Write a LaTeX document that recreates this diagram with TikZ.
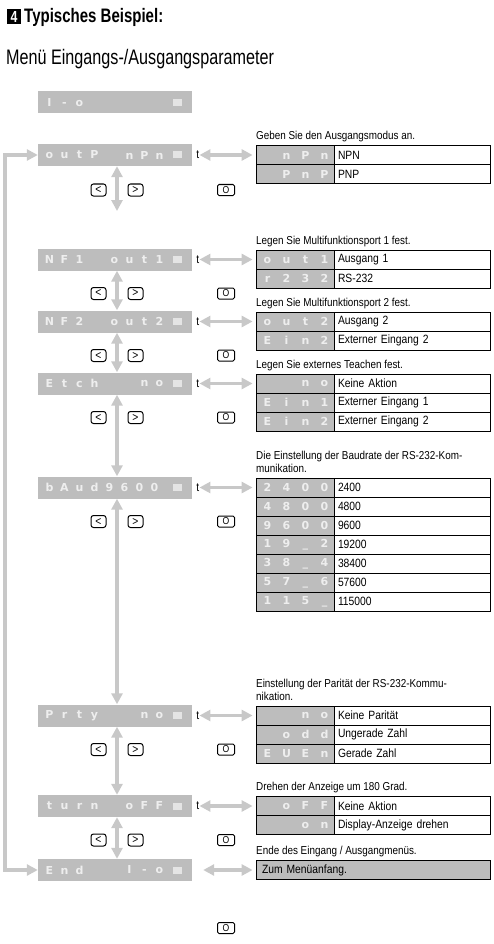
\documentclass[tikz,border=0pt]{standalone}
\usepackage{fontspec}
\setmainfont{Liberation Sans}[FakeStretch=0.86]
\newfontfamily\headfont{Liberation Sans}[FakeStretch=0.77]
\newfontfamily\lcdfont{DejaVu Sans}
\usetikzlibrary{arrows.meta}

\definecolor{dispgray}{RGB}{189,189,189}
\definecolor{arrowgray}{RGB}{200,200,200}
\definecolor{lcdwhite}{RGB}{238,238,238}
\definecolor{ledgray}{RGB}{228,228,228}

% spaced display characters
\newcommand\lcd[2][15pt]{\foreach \ch in {#2}{\makebox[#1]{\ch}}}
% display: name, y, left chars, right chars
\newcommand\display[4]{%
  \node[disp] (#1) at (115,#2) {};
  \node[lcdtext, anchor=west] (#1-l) at ([xshift=4pt]#1.west) {\lcd{#3}};
  \node[lcdtext, anchor=east] (#1-r) at ([xshift=-25pt]#1.east) {\lcd{#4}};
  \node[led] (#1-led) at ([xshift=-15pt]#1.east) {};}
% table row: name, y, display chars, text
\newcommand\trow[4]{%
  \node[cellL] (#1) at (295,#2) {\lcd[19pt]{#3}};
  \node[cellR] (#1-txt) at (412,#2) {#4};}
% keys below a display: name, y
\newcommand\keyrow[2]{%
  \node[key] (#1-kl) at (98.5,#2) {<};
  \node[key] (#1-kr) at (135.5,#2) {>};
  \node[okey] (#1-ko) at (226,#2) {O};}

\begin{document}
\begin{tikzpicture}[x=1pt, y=-1pt,
    disp/.style={fill=dispgray, minimum width=154pt, minimum height=22pt, inner sep=0pt},
    lcdtext/.style={inner sep=0pt, text=lcdwhite, font=\lcdfont\bfseries\fontsize{11}{12}\selectfont},
    led/.style={fill=ledgray, minimum width=9pt, minimum height=7pt, inner sep=0pt},
    cellL/.style={draw, line width=0.8pt, fill=dispgray, minimum height=19pt, text width=78pt,
      inner xsep=0pt, inner ysep=0pt, align=right, text=lcdwhite,
      font=\lcdfont\bfseries\fontsize{11}{12}\selectfont},
    cellR/.style={draw, line width=0.8pt, minimum height=19pt, text width=148pt,
      inner xsep=4pt, inner ysep=0pt, align=left, font=\fontsize{12}{13}\selectfont},
    captxt/.style={anchor=base west, inner sep=0pt, font=\fontsize{11.5}{13}\selectfont},
    tlab/.style={anchor=west, inner sep=0pt, font=\fontsize{12}{13}\selectfont},
    key/.style={draw, line width=1pt, rounded corners=2.5pt, minimum width=15pt,
      minimum height=12pt, inner sep=0pt, font=\fontsize{12}{12}\selectfont},
    okey/.style={draw, line width=1pt, rounded corners=1.5pt, minimum width=17pt,
      minimum height=11pt, inner sep=0pt, font=\fontsize{10}{10}\selectfont},
    garrow/.style={draw=arrowgray, line width=3.5pt,
      {Triangle[length=11pt,width=11pt]}-{Triangle[length=11pt,width=11pt]}}]
  \useasboundingbox (0,0) rectangle (493,944);

  % Heading
  \node[fill=black, text=white, minimum width=14pt, minimum height=15pt, inner sep=0pt,
    font=\headfont\bfseries\fontsize{16}{16}\selectfont] (num) at (14,16.5) {4};
  \node[anchor=base west, inner sep=0pt, font=\headfont\bfseries\fontsize{19.5}{22}\selectfont]
    (head) at (24,23) {Typisches Beispiel:};
  \node[anchor=base west, inner sep=0pt, font=\headfont\fontsize{21}{24}\selectfont]
    (title) at (6,65) {Menü Eingangs-/Ausgangsparameter};

  % I-o
  \display{Io}{102.5}{I,-,o}{}

  % outP
  \display{outP}{155}{o,u,t,P}{n,P,n}
  \node[captxt] (outP-c) at (256,139.5) {Geben Sie den Ausgangsmodus an.};
  \trow{outP-a}{155}{n,P,n}{NPN}
  \trow{outP-b}{174}{P,n,P}{PNP}
  \node[tlab] (outP-t) at ([xshift=4pt]outP.east) {t};
  \draw[garrow, shorten >=3pt] (outP-t.east) -- (outP-a.west);
  \keyrow{outP}{190}
  \coordinate (outP-end) at (117,211);
  \draw[garrow] ([xshift=2pt]outP.south) -- (outP-end);

  % NF1
  \display{NF1}{259.5}{N,F,1}{o,u,t,1}
  \node[captxt] (NF1-c) at (256,244) {Legen Sie Multifunktionsport 1 fest.};
  \trow{NF1-a}{259.5}{o,u,t,1}{Ausgang 1}
  \trow{NF1-b}{278.5}{r,2,3,2}{RS-232}
  \node[tlab] (NF1-t) at ([xshift=4pt]NF1.east) {t};
  \draw[garrow, shorten >=3pt] (NF1-t.east) -- (NF1-a.west);
  \keyrow{NF1}{293.5}

  % NF2
  \display{NF2}{321.5}{N,F,2}{o,u,t,2}
  \node[captxt] (NF2-c) at (256,306) {Legen Sie Multifunktionsport 2 fest.};
  \trow{NF2-a}{321.5}{o,u,t,2}{Ausgang 2}
  \trow{NF2-b}{340.5}{E,i,n,2}{Externer Eingang 2}
  \node[tlab] (NF2-t) at ([xshift=4pt]NF2.east) {t};
  \draw[garrow, shorten >=3pt] (NF2-t.east) -- (NF2-a.west);
  \keyrow{NF2}{355.5}

  % Etch
  \display{Etch}{383.5}{E,t,c,h}{n,o}
  \node[captxt] (Etch-c) at (256,368) {Legen Sie externes Teachen fest.};
  \trow{Etch-a}{383.5}{n,o}{Keine Aktion}
  \trow{Etch-b}{402.5}{E,i,n,1}{Externer Eingang 1}
  \trow{Etch-c2}{421.5}{E,i,n,2}{Externer Eingang 2}
  \node[tlab] (Etch-t) at ([xshift=4pt]Etch.east) {t};
  \draw[garrow, shorten >=3pt] (Etch-t.east) -- (Etch-a.west);
  \keyrow{Etch}{417.5}

  % bAud
  \display{bAud}{487.5}{b,A,u,d,9,6,0,0}{}
  \node[captxt] (bAud-c1) at (256,459) {Die Einstellung der Baudrate der RS-232-Kom-};
  \node[captxt] (bAud-c2) at (256,472) {munikation.};
  \trow{bAud-a}{487.5}{2,4,0,0}{2400}
  \trow{bAud-b}{506.5}{4,8,0,0}{4800}
  \trow{bAud-c}{525.5}{9,6,0,0}{9600}
  \trow{bAud-d}{544.5}{1,9,\_,2}{19200}
  \trow{bAud-e}{563.5}{3,8,\_,4}{38400}
  \trow{bAud-f}{582.5}{5,7,\_,6}{57600}
  \trow{bAud-g}{601.5}{1,1,5,\_}{115000}
  \node[tlab] (bAud-t) at ([xshift=4pt]bAud.east) {t};
  \draw[garrow, shorten >=3pt] (bAud-t.east) -- (bAud-a.west);
  \keyrow{bAud}{521.5}

  % Prty
  \display{Prty}{715.5}{P,r,t,y}{n,o}
  \node[captxt] (Prty-c1) at (256,687) {Einstellung der Parität der RS-232-Kommu-};
  \node[captxt] (Prty-c2) at (256,700) {nikation.};
  \trow{Prty-a}{715.5}{n,o}{Keine Parität}
  \trow{Prty-b}{734.5}{o,d,d}{Ungerade Zahl}
  \trow{Prty-c}{753.5}{E,U,E,n}{Gerade Zahl}
  \node[tlab] (Prty-t) at ([xshift=4pt]Prty.east) {t};
  \draw[garrow, shorten >=3pt] (Prty-t.east) -- (Prty-a.west);
  \keyrow{Prty}{749.5}

  % turn
  \display{turn}{806}{t,u,r,n}{o,F,F}
  \node[captxt] (turn-c) at (256,790.5) {Drehen der Anzeige um 180 Grad.};
  \trow{turn-a}{806}{o,F,F}{Keine Aktion}
  \trow{turn-b}{825}{o,n}{Display-Anzeige drehen}
  \node[tlab] (turn-t) at ([xshift=4pt]turn.east) {t};
  \draw[garrow, shorten >=3pt] (turn-t.east) -- (turn-a.west);
  \keyrow{turn}{840}

  % End
  \display{End}{870}{E,n,d}{I,-,o}
  \node[captxt] (End-c) at (256,854.5) {Ende des Eingang / Ausgangmenüs.};
  \node[draw, line width=0.8pt, fill=dispgray, minimum height=19pt, text width=222pt,
    inner xsep=6pt, inner ysep=0pt, align=left, font=\fontsize{12}{13}\selectfont]
    (End-a) at (373,870) {Zum Menüanfang.};
  \draw[garrow, shorten <=11pt, shorten >=3pt] (End.east) -- (End-a.west);
  \node[okey] (End-ko) at (226,928) {O};

  % up/down between displays
  \draw[garrow] ([xshift=2pt]NF1.south) -- ([xshift=2pt]NF2.north);
  \draw[garrow] ([xshift=2pt]NF2.south) -- ([xshift=2pt]Etch.north);
  \draw[garrow] ([xshift=2pt]Etch.south) -- ([xshift=2pt]bAud.north);
  \draw[garrow] ([xshift=2pt]bAud.south) -- ([xshift=2pt]Prty.north);
  \draw[garrow] ([xshift=2pt]Prty.south) -- ([xshift=2pt]turn.north);
  \draw[garrow] ([xshift=2pt]turn.south) -- ([xshift=2pt]End.north);

  % return line
  \coordinate (ret) at (5,0);
  \draw[garrow] (outP.west) -- (outP.west -| ret) |- (End.west);
\end{tikzpicture}
\end{document}
